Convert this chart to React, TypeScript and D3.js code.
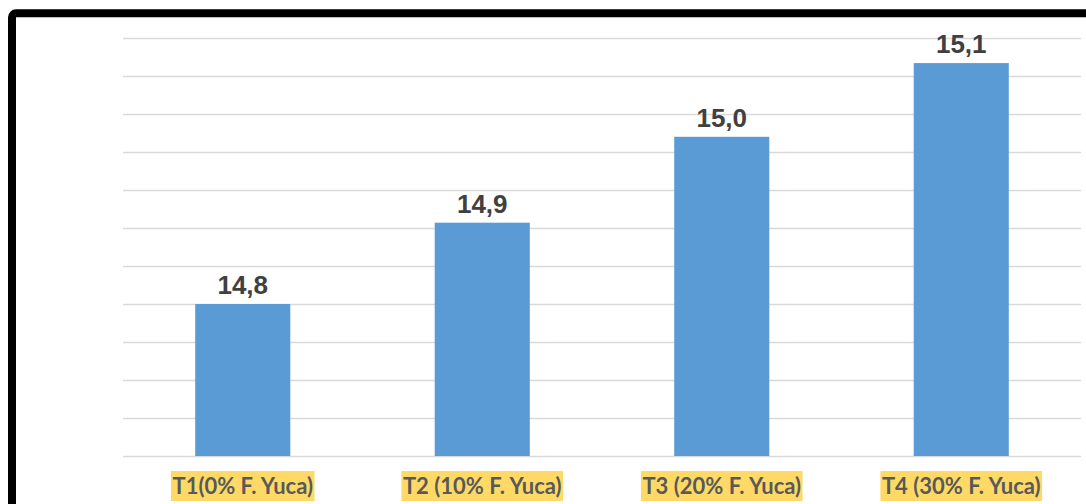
import React, { useEffect, useRef } from "react";
import * as d3 from "d3";

const categories = ["T1(0% F. Yuca)", "T2 (10% F. Yuca)", "T3 (20% F. Yuca)", "T4 (30% F. Yuca)"];
const values = [14.8, 14.907, 15.02, 15.117];
const yMin = 14.6;
const yMax = 15.15;
const yStep = 0.05;

export default function App() {
  const ref = useRef<SVGSVGElement | null>(null);

  useEffect(() => {
    const svg = d3.select(ref.current);
    svg.selectAll("*").remove();

    const x = d3
      .scaleBand<string>()
      .domain(categories)
      .range([123, 1081])
      .paddingInner(0.603)
      .paddingOuter(0.3015);
    const y = d3.scaleLinear().domain([yMin, yMax]).range([456, 38]);

    svg.append("rect").attr("x", 0).attr("y", 0).attr("width", 1086).attr("height", 504).attr("fill", "#fff");

    const ticks = d3.range(0, Math.round((yMax - yMin) / yStep) + 1).map((i) => yMin + i * yStep);
    svg
      .append("g")
      .selectAll("line")
      .data(ticks)
      .join("line")
      .attr("x1", 123)
      .attr("x2", 1081)
      .attr("y1", (d) => Math.round(y(d)) + 0.5)
      .attr("y2", (d) => Math.round(y(d)) + 0.5)
      .attr("stroke", "#d9d9d9")
      .attr("stroke-width", 1.5);

    svg
      .append("g")
      .selectAll("rect")
      .data(values)
      .join("rect")
      .attr("x", (_d, i) => x(categories[i])!)
      .attr("width", x.bandwidth())
      .attr("y", (d) => y(d))
      .attr("height", (d) => y(yMin) - y(d))
      .attr("fill", "#5b9bd5");

    svg
      .append("g")
      .selectAll("text")
      .data(values)
      .join("text")
      .attr("x", (_d, i) => x(categories[i])! + x.bandwidth() / 2)
      .attr("y", (d) => y(d) - 10)
      .attr("text-anchor", "middle")
      .attr("font-family", "'Liberation Sans', Arial, sans-serif")
      .attr("font-weight", "bold")
      .attr("font-size", 26)
      .attr("fill", "#404040")
      .text((d) => d.toFixed(1).replace(".", ","));

    const catG = svg.append("g");
    categories.forEach((c) => {
      const cx = x(c)! + x.bandwidth() / 2;
      const bg = catG.append("rect").attr("fill", "#ffd966");
      const t = catG
        .append("text")
        .attr("x", cx)
        .attr("y", 494)
        .attr("text-anchor", "middle")
        .attr("font-family", "Lato, 'Open Sans', sans-serif")
        .attr("font-weight", "bold")
        .attr("font-size", 22)
        .attr("fill", "#595959")
        .text(c);
      const w = (t.node() as SVGTextElement).getComputedTextLength();
      bg.attr("x", cx - w / 2 - 1.5).attr("width", w + 3).attr("y", 471).attr("height", 30);
    });

    svg
      .append("rect")
      .attr("x", 12)
      .attr("y", 13.3)
      .attr("width", 1200)
      .attr("height", 700)
      .attr("rx", 4)
      .attr("fill", "none")
      .attr("stroke", "#000")
      .attr("stroke-width", 8);
  }, []);

  return (
    <svg
      ref={ref}
      width={1086}
      height={504}
      style={{ position: "absolute", left: 0, top: 0, display: "block" }}
    />
  );
}
